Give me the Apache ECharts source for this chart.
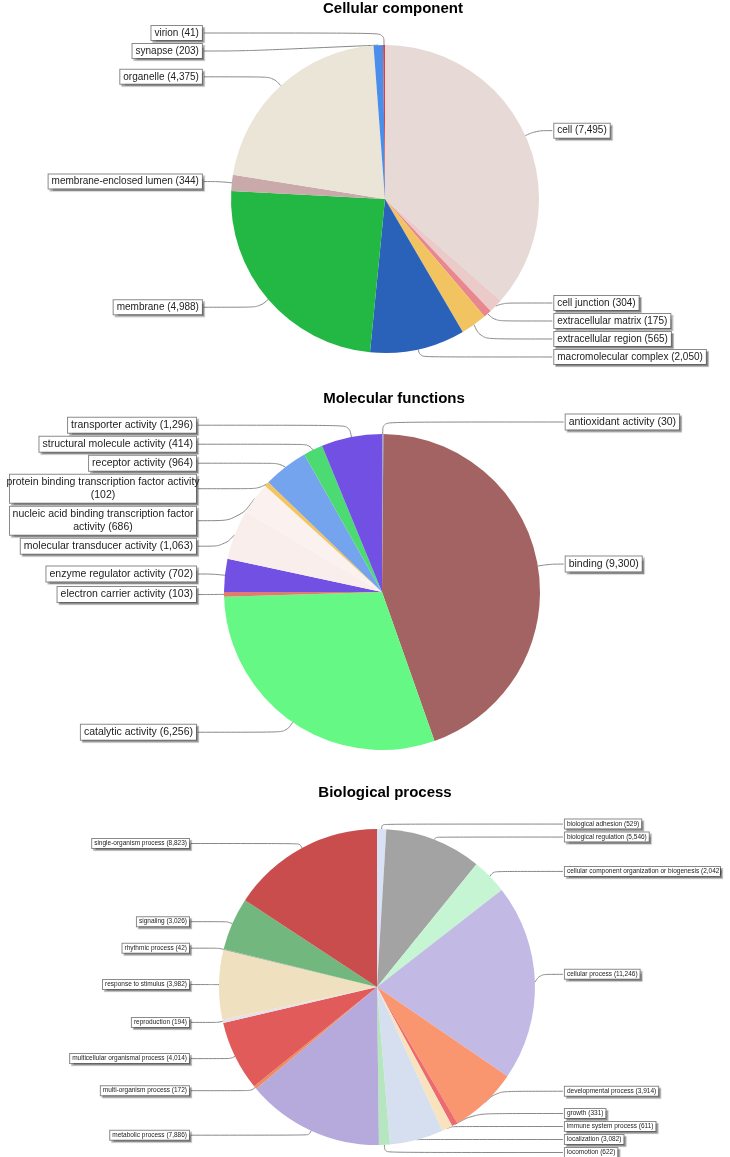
<!DOCTYPE html>
<html lang="en">
<head>
    <meta charset="UTF-8">
    <title>GO categories</title>
    <style type="text/css">
        html, body { margin: 0; padding: 0; background: #fff; }
        #main { width: 730px; height: 1157px; }
    </style>
</head>
<body>
    <div id="main"></div>
    <script src="https://cdn.jsdelivr.net/npm/echarts@6/dist/echarts.min.js"></script>
    <script type="text/javascript">
        // --- data ---
        var ccNames = ['cell', 'cell junction', 'extracellular matrix', 'extracellular region',
            'macromolecular complex', 'membrane', 'membrane-enclosed lumen', 'organelle', 'synapse', 'virion'];
        var ccValues = [7495, 304, 175, 565, 2050, 4988, 344, 4375, 203, 41];

        var mfNames = ['antioxidant activity', 'binding', 'catalytic activity', 'electron carrier activity',
            'enzyme regulator activity', 'molecular transducer activity',
            'nucleic acid binding transcription factor activity',
            'protein binding transcription factor activity', 'receptor activity',
            'structural molecule activity', 'transporter activity'];
        var mfValues = [30, 9300, 6256, 103, 702, 1063, 686, 102, 964, 414, 1296];

        var bpNames = ['biological adhesion', 'biological regulation',
            'cellular component organization or biogenesis', 'cellular process', 'developmental process',
            'growth', 'immune system process', 'localization', 'locomotion', 'metabolic process',
            'multi-organism process', 'multicellular organismal process', 'reproduction',
            'response to stimulus', 'rhythmic process', 'signaling', 'single-organism process'];
        var bpValues = [529, 5546, 2042, 11246, 3914, 331, 611, 3082, 622, 7886, 172, 4014, 194, 3982, 42, 3026, 8823];

        var titles = ['Cellular component', 'Molecular functions', 'Biological process'];

        // --- slice colours ---
        var ccColors = ['#e6d9d6', '#ebcaca', '#e8878d', '#f2c461', '#2a62ba', '#23b843',
            '#c9a9a9', '#eae5d6', '#4a8eea', '#d6404a'];
        var mfColors = ['#9aa5dd', '#a36363', '#66f884', '#e07b6f', '#7350e4', '#f9eeec',
            '#fbf2f0', '#f5c45e', '#74a4ee', '#4cdb72', '#7350e4'];
        var bpColors = ['#d9e2f5', '#a3a3a3', '#c5f5d2', '#c2b9e5', '#f9956f', '#eb6b70', '#f9e3be',
            '#d6dfef', '#b6e6bf', '#b6a9db', '#f08a5d', '#e25b5b', '#e6e0e8', '#efe0c0', '#8c9c8c',
            '#72b87e', '#c94d4d'];

        var FONT = 'Liberation Sans, Arial, sans-serif';

        function commas(v) {
            return String(v).replace(/\B(?=(\d{3})+(?!\d))/g, ',');
        }

        // break long labels into lines of at most max characters
        function wrap(text, max) {
            var words = text.split(' ');
            var lines = [], cur = '';
            for (var i = 0; i < words.length; i++) {
                var next = cur ? cur + ' ' + words[i] : words[i];
                if (next.length > max && cur) {
                    lines.push(cur);
                    cur = words[i];
                } else {
                    cur = next;
                }
            }
            lines.push(cur);
            return lines;
        }

        function toData(names, values, colors) {
            return names.map(function (n, i) {
                return { name: n, value: values[i], itemStyle: { color: colors[i] } };
            });
        }

        function pieSeries(opts) {
            return {
                type: 'pie',
                top: opts.top,
                height: opts.height,
                left: 0,
                width: 730,
                center: opts.center,
                radius: opts.radius,
                startAngle: 90,
                clockwise: true,
                silent: true,
                itemStyle: { borderWidth: 0 },
                label: {
                    show: true,
                    position: 'outer',
                    alignTo: 'labelLine',
                    distanceToLabelLine: 2,
                    overflow: 'none',
                    formatter: function (p) {
                        var s = p.name + ' (' + commas(p.value) + ')';
                        if (!opts.wrap) return s;
                        // centred lines, like the original boxes
                        return wrap(s, opts.wrap).map(function (l) { return '{c|' + l + '}'; }).join('\n');
                    },
                    rich: {
                        c: { align: 'center', fontFamily: FONT, fontSize: opts.fontSize, lineHeight: opts.lineHeight, color: '#222' }
                    },
                    fontFamily: FONT,
                    fontSize: opts.fontSize,
                    lineHeight: opts.lineHeight,
                    color: '#222',
                    backgroundColor: '#fff',
                    borderColor: '#8a8a8a',
                    borderWidth: 1,
                    padding: opts.padding,
                    shadowColor: 'rgba(0,0,0,0.28)',
                    shadowOffsetX: 2,
                    shadowOffsetY: 2,
                    shadowBlur: 1
                },
                labelLine: {
                    show: true,
                    length: opts.len,
                    length2: opts.len2,
                    smooth: 0.4,
                    lineStyle: { color: '#888', width: 1 }
                },
                data: opts.data
            };
        }

        var chart = echarts.init(document.getElementById('main'));
        var titleStyle = { fontFamily: FONT, fontSize: 15, fontWeight: 'bold', color: '#000' };

        var option = {
            animation: false,
            backgroundColor: '#fff',
            title: [
                { text: titles[0], left: 393, top: 1, textAlign: 'center', padding: 0, textStyle: titleStyle },
                { text: titles[1], left: 394, top: 391, textAlign: 'center', padding: 0, textStyle: titleStyle },
                { text: titles[2], left: 385, top: 785, textAlign: 'center', padding: 0, textStyle: titleStyle }
            ],
            series: [
                pieSeries({
                    top: 20, height: 346, center: [385, 179], radius: 154,
                    fontSize: 10, lineHeight: 12, padding: [1, 3], len: 12, len2: 16,
                    data: toData(ccNames, ccValues, ccColors)
                }),
                pieSeries({
                    top: 410, height: 365, center: [382, 182], radius: 158,
                    fontSize: 10.5, lineHeight: 13, padding: [1, 3], len: 12, len2: 14, wrap: 46,
                    data: toData(mfNames, mfValues, mfColors)
                }),
                pieSeries({
                    top: 810, height: 349, center: [377, 177], radius: 158,
                    fontSize: 6.5, lineHeight: 7, padding: [1, 2], len: 5, len2: 23,
                    data: toData(bpNames, bpValues, bpColors)
                })
            ]
        };
        chart.setOption(option);
    </script>
</body>
</html>
